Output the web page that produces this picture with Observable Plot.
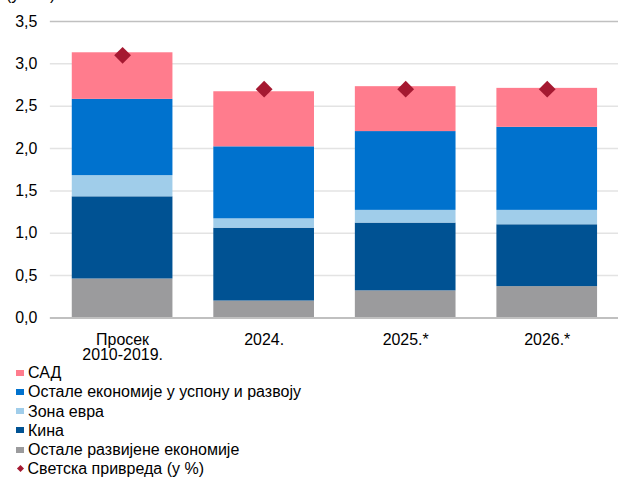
<!DOCTYPE html>
<html><head><meta charset="utf-8">
<script src="https://cdn.jsdelivr.net/npm/d3@7"></script>
<script src="https://cdn.jsdelivr.net/npm/@observablehq/plot@0.6"></script>
<style>
html,body{margin:0;padding:0;background:#fff;overflow:hidden;}
body{font-family:"Liberation Sans",Arial,sans-serif;position:relative;width:618px;height:478px;}
#chart{position:absolute;left:0;top:0;}
#unit{position:absolute;left:6px;top:-14.5px;font-size:16px;line-height:18px;color:#000;z-index:2;}
#legend{position:absolute;left:16px;top:363.3px;font-size:16px;color:#000;z-index:2;}
.row{height:19.2px;line-height:19.2px;display:flex;align-items:center;white-space:nowrap;}
.sw{width:8px;height:6px;margin-right:4px;display:inline-block;}
.dm{width:5px;height:5px;margin:0 5px 0 1.5px;transform:rotate(45deg);display:inline-block;}
</style></head>
<body>
<div id="chart"></div>
<div id="unit">(у п.п.)</div>
<div id="legend"></div>
<script>
const categories = ["Просек\n2010-2019.", "2024.", "2025.*", "2026.*"];
const seriesNames = ["Остале развијене економије", "Кина", "Зона евра", "Остале економије у успону и развоју", "САД"];
const otherDeveloped = [0.46, 0.20, 0.32, 0.37];
const china = [0.97, 0.86, 0.80, 0.73];
const euroArea = [0.25, 0.11, 0.15, 0.17];
const otherEmerging = [0.90, 0.85, 0.93, 0.98];
const usa = [0.55, 0.65, 0.53, 0.46];
const worldEconomy = [3.1, 2.7, 2.7, 2.7];
const colors = ["#9b9b9d", "#005293", "#a0cdea", "#0072ce", "#ff7c8d"];
const diamondColor = "#a51931";
const legendOrder = ["САД", "Остале економије у успону и развоју", "Зона евра", "Кина", "Остале развијене економије"];
const worldLabel = "Светска привреда (у %)";

const seriesValues = [otherDeveloped, china, euroArea, otherEmerging, usa];
const rows = [];
seriesValues.forEach((vals, si) => vals.forEach((v, ci) => rows.push({cat: categories[ci], series: seriesNames[si], value: v})));
const world = categories.map((c, i) => ({cat: c, value: worldEconomy[i]}));

const chart = Plot.plot({
  width: 620, height: 368,
  marginLeft: 50, marginRight: 0, marginTop: 21, marginBottom: 49.5,
  style: {fontFamily: '"Liberation Sans", Arial, sans-serif', fontSize: "16px", color: "#000"},
  x: {domain: categories, paddingInner: 0.29, paddingOuter: 0.145, label: null},
  y: {domain: [0, 3.5], label: null},
  color: {domain: seriesNames, range: colors},
  marks: [
    Plot.gridY(d3.range(0.5, 3.5, 0.5), {stroke: "#e3e3e3", strokeOpacity: 1, strokeWidth: 1.5}),
    Plot.barY(rows, Plot.stackY({x: "cat", y: "value", fill: "series", order: seriesNames})),
    Plot.dot(world, {x: "cat", y: "value", symbol: "diamond2", r: 7.6, fill: diamondColor}),
    Plot.ruleY([3.5], {stroke: "#c0c0c0", strokeWidth: 1.5}),
    Plot.ruleY([0], {stroke: "#c0c0c0", strokeWidth: 2}),
    Plot.ruleX([0], {x: () => 0, frameAnchor: "left", stroke: "#c0c0c0", strokeWidth: 1.5}),
    Plot.axisY({ticks: d3.range(0, 3.51, 0.5), tickSize: 0, tickPadding: 13, tickFormat: d => d3.format(".1f")(d).replace(".", ","), fontSize: 16}),
    Plot.axisX({tickSize: 0, tickPadding: 15.5, lineHeight: 0.98, fontSize: 16})
  ]
});
document.getElementById("chart").appendChild(chart);

const leg = document.getElementById("legend");
legendOrder.forEach(name => {
  const r = document.createElement("div"); r.className = "row";
  const s = document.createElement("span"); s.className = "sw"; s.style.background = colors[seriesNames.indexOf(name)];
  r.appendChild(s); r.appendChild(document.createTextNode(name)); leg.appendChild(r);
});
const r = document.createElement("div"); r.className = "row";
const s = document.createElement("span"); s.className = "dm"; s.style.background = diamondColor;
r.appendChild(s); r.appendChild(document.createTextNode(worldLabel)); leg.appendChild(r);
</script>
</body></html>
